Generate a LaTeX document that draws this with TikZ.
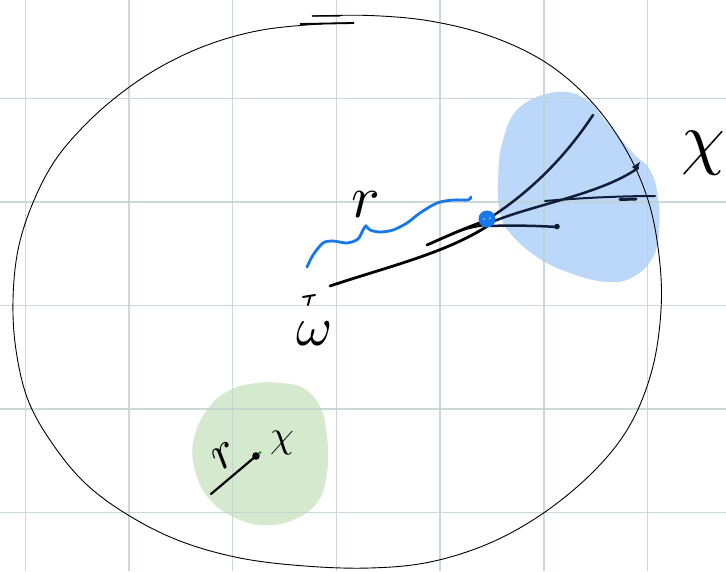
\documentclass[tikz,border=0pt]{standalone}
\usepackage{amsmath}
\begin{document}
\definecolor{gridc}{RGB}{192,212,208}
\definecolor{bluefill}{RGB}{187,215,249}
\definecolor{greenfill}{RGB}{212,233,206}
\definecolor{bluestroke}{RGB}{24,120,232}
\definecolor{navy}{RGB}{16,28,56}
\begin{tikzpicture}[x=1pt,y=-1pt,
  gridline/.style={gridc,line width=1.4pt},
  outline/.style={black,line width=0.9pt},
  inkline/.style={navy,line width=2.5pt,line cap=round},
  blackink/.style={black,line width=2.8pt,line cap=round},
  lab/.style={inner sep=0pt,black}]
\useasboundingbox (0,0) rectangle (726,571);
\fill[white] (0,0) rectangle (726,571);
% blobs
\fill[bluefill] plot[smooth cycle,tension=0.7] coordinates {(557,92) (520,107) (503,140) (498,180) (500,213) (510,233) (537,257) (570,273) (607,282) (633,277) (653,257) (659,230) (658,197) (650,170) (633,153) (607,123) (587,100)};
\fill[greenfill] plot[smooth cycle,tension=0.7] coordinates {(257,383) (230,390) (207,410) (193,443) (197,477) (213,503) (240,520) (267,525) (293,520) (317,503) (327,473) (327,437) (320,407) (303,388) (280,383)};
% grid
\foreach \gx in {25.3,129,232.7,336.4,440.1,543.8,647.5}
  \draw[gridline,opacity=0.85] (\gx,0) -- (\gx,571);
\foreach \gy in {98.3,201.9,305.5,409.1,512.7}
  \draw[gridline,opacity=0.85] (0,\gy) -- (726,\gy);
% big closed curve
\draw[outline] plot[smooth,tension=0.6] coordinates {(312,16) (370,15.5) (430,21) (490,36) (545,62) (590,100) (625,148) (648,200) (659,255) (661,310) (652,370) (630,425) (595,470) (545,512) (490,543) (430,562) (370,568) (305,566) (240,558) (180,541) (128,515) (85,483) (52,443) (28,400) (16,350) (13,300) (18,250) (32,205) (54,162) (84,126) (120,94) (162,66) (210,44) (262,30) (320,24) (354,23)};
\draw[black,line width=1.8pt] (300,24) -- (354,23);
\draw[black,line width=1.4pt] (312,16) -- (340,15.8);
% blue wiggle
\draw[bluestroke,line width=2.8pt,line cap=round] plot[smooth,tension=0.5] coordinates {(307,267) (313,255) (323,243) (333,241) (347,243) (358,239) (363,230) (366,226) (370,230) (380,232) (393,230) (407,223) (420,213) (437,203) (453,200) (468,200) (471,197)};
% black strokes toward the dot
\draw[blackink] (330,286) .. controls (390,266) and (450,252) .. (492,223);
\draw[blackink] (427,245) .. controls (445,237) and (465,228) .. (485,221);
\draw[blackink,line width=2pt] (452,234) .. controls (468,227) and (480,226) .. (492,224);
% fan
\draw[inkline] (480,224) .. controls (520,200) and (560,165) .. (593,115);
\draw[inkline] (487,224) .. controls (530,205) and (600,195) .. (638,168);
\fill[navy] (632,167) -- (640,162) -- (637,171) -- cycle;
\draw[inkline,line width=2pt] (545,201) .. controls (580,198) and (620,196) .. (655,196);
\draw[inkline,line width=3pt] (620,199.5) -- (636,199);
\draw[inkline] (490,226) .. controls (515,225) and (540,226) .. (558,227);
\fill[navy] (557,226.5) circle (2.8);
% blue dot
\fill[bluestroke] (487,219) circle (8.5);
\fill[white,opacity=0.5] (484,219) circle (1.2);
\fill[white,opacity=0.5] (490,218) circle (1.2);
% green region stroke
\draw[blackink,line width=2.2pt] (211,494) -- (256,456);
\fill[black] (256,456) circle (3.8);
\fill[green!60!black] (260,452.5) circle (1.5);
% omega accent mark
\draw[blackink,line width=2pt] (303,297) -- (315,295);
\draw[blackink,line width=2pt] (310,297) -- (308,305);
% labels
\node[lab,scale=6] (rtop) at (366,205) {$r$};
\node[lab,scale=5.5] (omega) at (315,334) {$\omega$};
\node[lab,scale=5,rotate=35] (rgreen) at (225,456) {$r$};
\node[lab,scale=3.8] (xgreen) at (282,443) {$\chi$};
\node[lab,scale=7] (xbig) at (703,153) {$\chi$};
\end{tikzpicture}
\end{document}
